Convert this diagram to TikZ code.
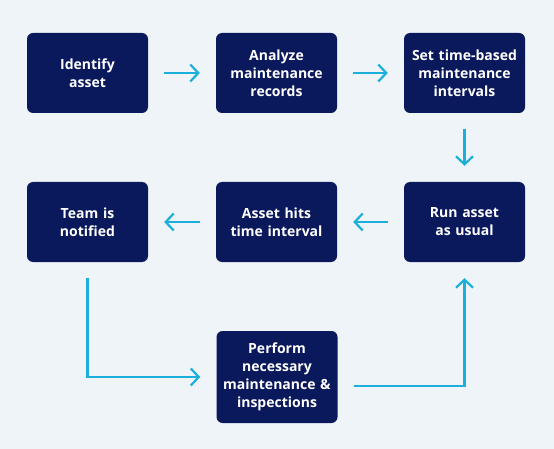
\documentclass[tikz,border=0pt]{standalone}
\usepackage{fontspec}
\setmainfont{Open Sans}
\usepackage{xcolor}
\usepackage{tikz}
\usetikzlibrary{arrows.meta}

\definecolor{navy}{HTML}{0A185C}
\definecolor{flowcyan}{HTML}{1BB0DB}
\definecolor{bgpaper}{HTML}{EFF4F8}

\begin{document}
\begin{tikzpicture}[x=1pt,y=-1pt,
    stepbox/.style={fill=navy, rounded corners=6pt, minimum width=121pt, minimum height=80pt,
      text width=117pt, align=center, text=white, inner sep=0pt,
      font=\fontsize{14}{18}\selectfont\bfseries},
    flow/.style={draw=flowcyan, line width=2.2pt, -{Straight Barb[length=8pt,width=17pt]},
      shorten <=16pt, shorten >=16pt}]
  \fill[bgpaper] (0,0) rectangle (554,449);
  \useasboundingbox (0,0) rectangle (554,449);
  % top row
  \node[stepbox] (identify) at (87.5,73)  {Identify\\asset};
  \node[stepbox] (analyze)  at (276.5,73) {Analyze\\maintenance\\records};
  \node[stepbox] (settime)  at (464.5,73) {Set time-based\\maintenance\\intervals};
  % middle row
  \node[stepbox] (runasset) at (464.5,222) {Run asset\\as usual};
  \node[stepbox] (hits)     at (276.5,222) {Asset hits\\time interval};
  \node[stepbox] (team)     at (87.5,222)  {Team is\\notified};
  % bottom
  \node[stepbox, minimum height=92pt] (perform) at (277,377) {Perform\\necessary\\maintenance \&\\inspections};

  \draw[flow] (identify) -- (analyze);
  \draw[flow] (analyze) -- (settime);
  \draw[flow] (settime) -- (runasset);
  \draw[flow] (runasset) -- (hits);
  \draw[flow] (hits) -- (team);
  \draw[flow] (team) |- (perform);
  \draw[flow] ([yshift=-9pt]perform.east) -| (runasset);
\end{tikzpicture}
\end{document}
